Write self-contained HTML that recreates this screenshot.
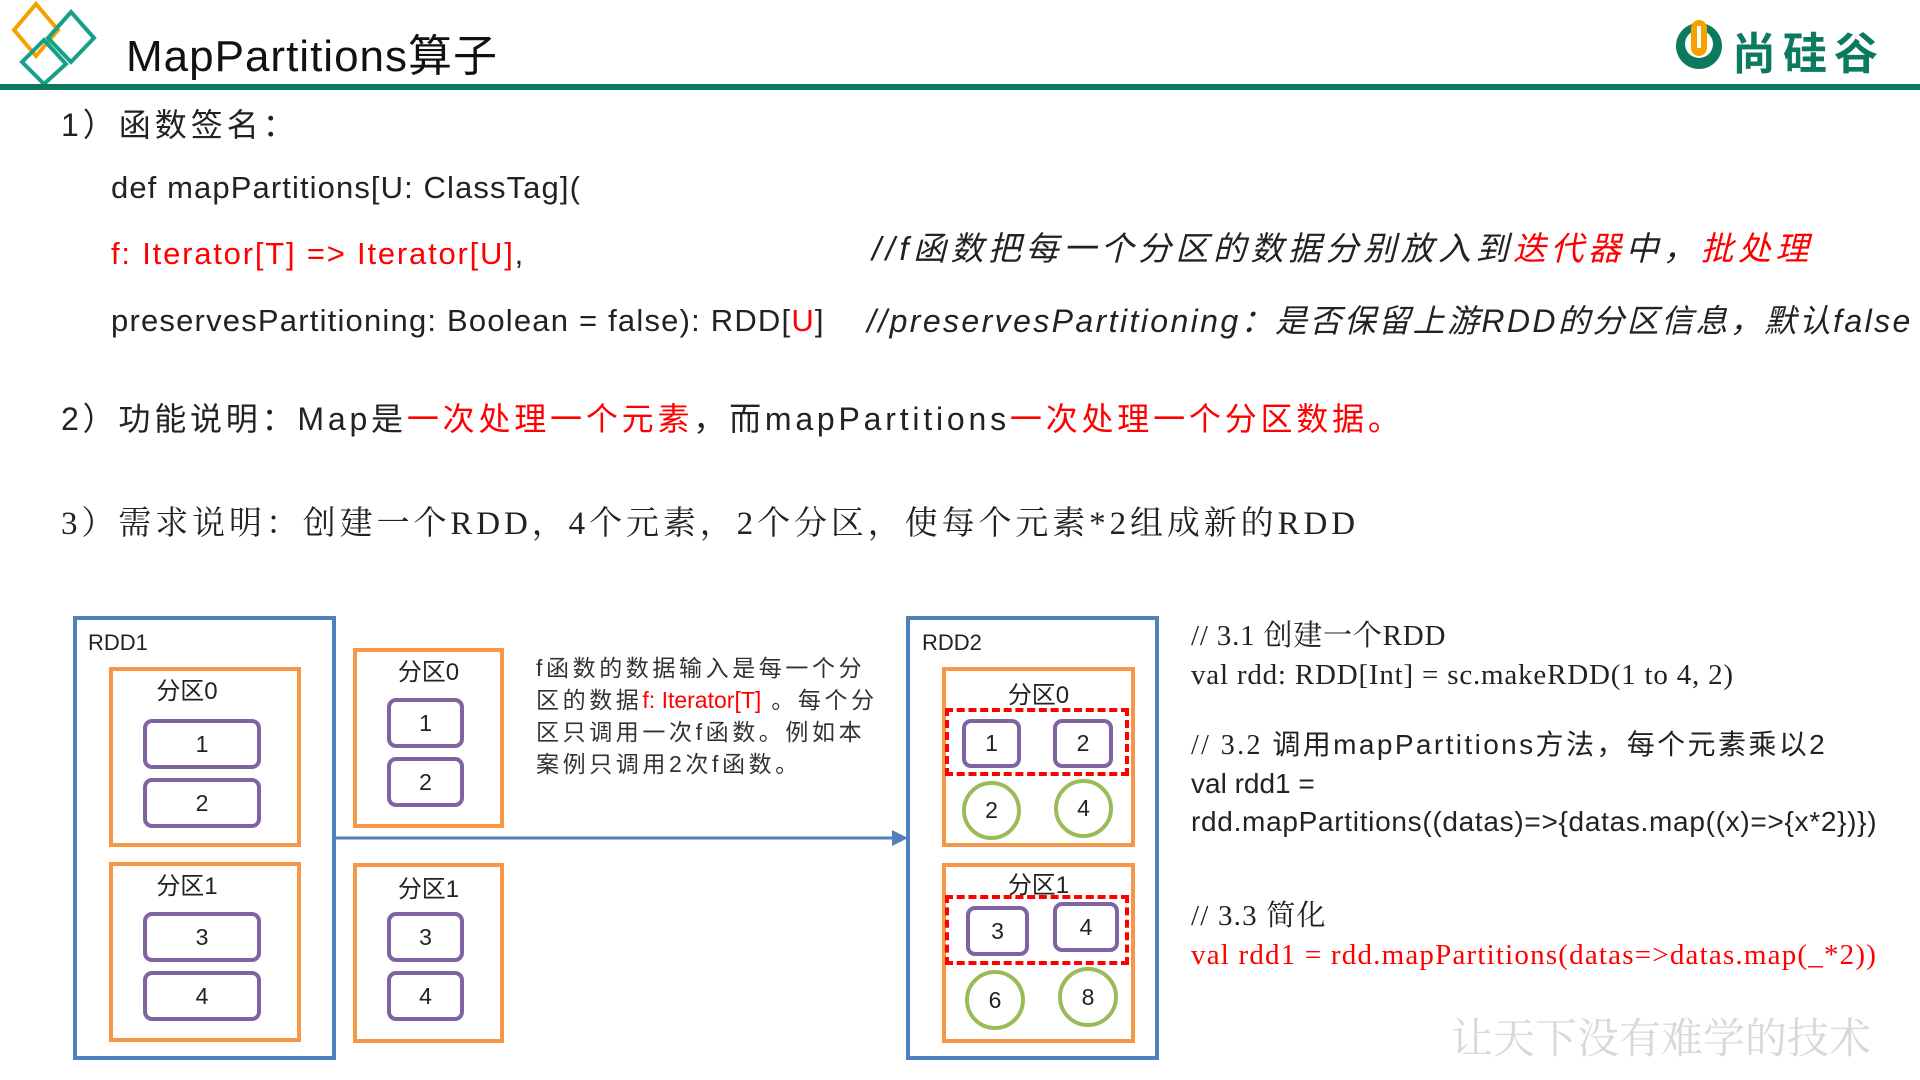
<!DOCTYPE html>
<html><head><meta charset="utf-8"><style>
body{margin:0;width:1920px;height:1080px;background:#fff;position:relative;overflow:hidden;font-family:"Liberation Sans","Noto Sans CJK SC",sans-serif;color:#222}
.a{position:absolute;white-space:nowrap}
.r{color:#f00}
.box{position:absolute;box-sizing:border-box}
.blue{border:4px solid #4f81bd}
.or{border:4px solid #f79646}
.pu{border:4px solid #8064a2;border-radius:9px;display:flex;align-items:center;justify-content:center;font-size:23px}
.ci{border:4px solid #9bbb59;border-radius:50%;display:flex;align-items:center;justify-content:center;font-size:23px}
.dash{border:4px dashed #f00}
.lbl{position:absolute;width:100%;text-align:center;font-size:24px}
.s{font-family:"Liberation Serif","Noto Serif CJK SC",serif}
</style></head><body>
<svg class="a" style="left:8px;top:0" width="100" height="90">
<polygon points="28,4 50,30 28,56 6,30" fill="none" stroke="#f5a200" stroke-width="4"/>
<polygon points="63,12 86,38 63,62 40,38" fill="none" stroke="#17a088" stroke-width="4"/>
<polygon points="36,40 58,64 36,84 14,62" fill="none" stroke="#17a088" stroke-width="4"/>
</svg>
<div class="a" style="left:126px;top:20px;font-size:44px;color:#111;letter-spacing:1px">MapPartitions算子</div>
<div class="box" style="left:0;top:84px;width:1920px;height:6px;background:#0b7a5e"></div>
<svg class="a" style="left:1674px;top:20px" width="50" height="52"><circle cx="25" cy="26" r="23" fill="#0b7a5e"/><circle cx="25" cy="24" r="14" fill="#fff"/><rect x="17" y="0" width="16" height="36" rx="8" fill="#f5a200"/><rect x="23" y="6" width="4" height="22" fill="#fff"/></svg>
<div class="a" style="left:1732px;top:18px;font-size:44px;font-weight:bold;color:#0b7a5e;letter-spacing:7px">尚硅谷</div>

<div class="a" style="left:61px;top:100px;font-size:32px;letter-spacing:4px">1）函数签名：</div>
<div class="a" style="left:111px;top:170px;font-size:31px;letter-spacing:1.1px">def mapPartitions[U: ClassTag](</div>
<div class="a r" style="left:111px;top:236px;font-size:31px;letter-spacing:1.8px">f: Iterator[T] =&gt; Iterator[U]<span style="color:#222">,</span></div>
<div class="a" style="left:111px;top:303px;font-size:31px;letter-spacing:1.2px">preservesPartitioning: Boolean = false): RDD[<span class="r">U</span>]</div>
<div class="a" style="left:872px;top:222px;font-size:33px;font-style:italic;letter-spacing:4.5px">//f函数把每一个分区的数据分别放入到<span class="r">迭代器</span>中，<span class="r">批处理</span></div>
<div class="a" style="left:867px;top:296px;font-size:32px;font-style:italic;letter-spacing:2.4px">//preservesPartitioning：是否保留上游RDD的分区信息，默认false</div>
<div class="a" style="left:61px;top:394px;font-size:32px;letter-spacing:3.8px">2）功能说明：Map是<span class="r">一次处理一个元素</span>，而mapPartitions<span class="r">一次处理一个分区数据。</span></div>
<div class="a s" style="left:61px;top:497px;font-size:33px;letter-spacing:3.9px">3）需求说明：创建一个RDD，4个元素，2个分区，使每个元素*2组成新的RDD</div>

<div class="box blue" style="left:73px;top:616px;width:263px;height:444px"></div>
<div class="a" style="left:88px;top:630px;font-size:22px">RDD1</div>
<div class="box or" style="left:109px;top:667px;width:192px;height:180px"><div class="lbl" style="top:0px;left:-18px">分区0</div></div>
<div class="box pu" style="left:143px;top:719px;width:118px;height:50px">1</div>
<div class="box pu" style="left:143px;top:778px;width:118px;height:50px">2</div>
<div class="box or" style="left:109px;top:862px;width:192px;height:180px"><div class="lbl" style="top:0px;left:-18px">分区1</div></div>
<div class="box pu" style="left:143px;top:912px;width:118px;height:50px">3</div>
<div class="box pu" style="left:143px;top:971px;width:118px;height:50px">4</div>

<div class="box or" style="left:353px;top:648px;width:151px;height:180px"><div class="lbl" style="top:0px">分区0</div></div>
<div class="box pu" style="left:387px;top:698px;width:77px;height:50px">1</div>
<div class="box pu" style="left:387px;top:757px;width:77px;height:50px">2</div>
<div class="box or" style="left:353px;top:863px;width:151px;height:180px"><div class="lbl" style="top:2px">分区1</div></div>
<div class="box pu" style="left:387px;top:912px;width:77px;height:50px">3</div>
<div class="box pu" style="left:387px;top:971px;width:77px;height:50px">4</div>

<svg class="a" style="left:336px;top:826px" width="574" height="24"><line x1="0" y1="12" x2="558" y2="12" stroke="#4f81bd" stroke-width="3"/><polygon points="556,4 572,12 556,20" fill="#4f81bd"/></svg>
<div class="a" style="left:536px;top:652px;font-size:23px;line-height:32px;color:#333;letter-spacing:3.6px">f函数的数据输入是每一个分<br>区的数据<span class="r" style="letter-spacing:0">f: Iterator[T]</span> 。每个分<br>区只调用一次f函数。例如本<br>案例只调用2次f函数。</div>

<div class="box blue" style="left:906px;top:616px;width:253px;height:444px"></div>
<div class="a" style="left:922px;top:630px;font-size:22px">RDD2</div>
<div class="box or" style="left:942px;top:667px;width:193px;height:180px"><div class="lbl" style="top:4px">分区0</div></div>
<div class="box dash" style="left:945px;top:708px;width:184px;height:68px"></div>
<div class="box pu" style="left:962px;top:719px;width:59px;height:49px">1</div>
<div class="box pu" style="left:1053px;top:719px;width:60px;height:49px">2</div>
<div class="box ci" style="left:962px;top:781px;width:59px;height:59px">2</div>
<div class="box ci" style="left:1054px;top:779px;width:59px;height:59px">4</div>
<div class="box or" style="left:942px;top:863px;width:193px;height:180px"><div class="lbl" style="top:-2px">分区1</div></div>
<div class="box dash" style="left:945px;top:895px;width:184px;height:70px"></div>
<div class="box pu" style="left:966px;top:906px;width:63px;height:50px">3</div>
<div class="box pu" style="left:1053px;top:902px;width:66px;height:50px">4</div>
<div class="box ci" style="left:965px;top:970px;width:60px;height:60px">6</div>
<div class="box ci" style="left:1058px;top:967px;width:60px;height:60px">8</div>

<div class="a s" style="left:1191px;top:617px;font-size:29px;line-height:39px;letter-spacing:0.8px">// 3.1 创建一个RDD<br>val rdd: RDD[Int] = sc.makeRDD(1  to 4, 2)</div>
<div class="a" style="left:1191px;top:726px;font-size:28px;line-height:38px"><span style="letter-spacing:2.4px"><span class="s">// 3.2 </span>调用mapPartitions方法，每个元素乘以2</span><br>val rdd1 =<br><span style="letter-spacing:0.7px">rdd.mapPartitions((datas)=&gt;{datas.map((x)=&gt;{x*2})})</span></div>
<div class="a s" style="left:1191px;top:897px;font-size:29px;line-height:39px;letter-spacing:1.2px">// 3.3 简化<br><span class="r">val rdd1 = rdd.mapPartitions(datas=&gt;datas.map(_*2))</span></div>
<div class="a s" style="left:1451px;top:1006px;font-size:42px;color:#d8d8d8">让天下没有难学的技术</div>
</body></html>
